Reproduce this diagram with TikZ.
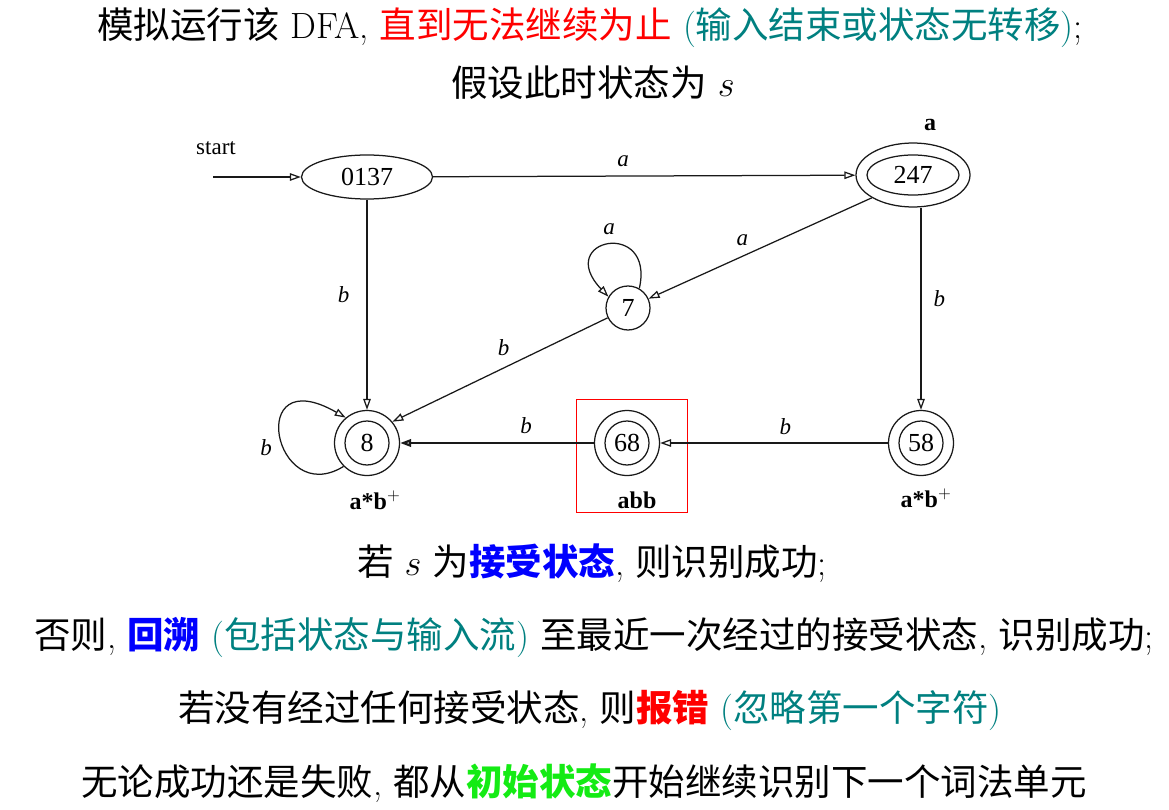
\RequirePackage{fix-cm}
\documentclass[tikz,border=0pt]{standalone}
\usepackage{fontspec}
\newfontfamily\cjk{Noto Sans CJK SC}
\newfontfamily\dgm{Liberation Serif}
\usetikzlibrary{arrows.meta,shapes.geometric}
\definecolor{tealc}{RGB}{0,128,128}
\definecolor{grnc}{RGB}{20,235,20}
\definecolor{bluec}{RGB}{0,0,255}
\newcommand\zhc[1]{{\cjk #1}}
\newcommand\zhb[1]{{\cjk\bfseries #1}}
\tikzset{
  big/.style={font=\fontsize{36.5}{40}\selectfont, inner sep=0pt},
  edge/.style={draw=black!90, line width=1.25pt, -{Triangle[open,length=11pt,width=7.5pt]}},
  st/.style={circle, draw=black!90, line width=1.25pt, minimum size=44pt, inner sep=0pt, font=\dgm\fontsize{26}{28}\selectfont},
  ring/.style={circle, draw=black!90, line width=1.25pt, minimum size=65pt, inner sep=0pt},
  lab/.style={font=\dgm\fontsize{23}{25}\selectfont\itshape, inner sep=0pt},
  tag/.style={font=\dgm\fontsize{24}{26}\selectfont\bfseries, inner sep=0pt},
}
\begin{document}
\begin{tikzpicture}[x=1pt,y=-1pt]
\useasboundingbox (0,0) rectangle (1169,810);
% titles
\node[big] (t1) at (590,28) {\zhc{模拟运行该} DFA, \textcolor{red}{\zhc{直到无法继续为止}} \textcolor{tealc}{(\zhc{输入结束或状态无转移})};};
\node[big] (t2) at (593,83) {\zhc{假设此时状态为} $s$};
% states
\node[ellipse, draw=black!90, line width=1.25pt, minimum width=131pt, minimum height=44pt, inner sep=0pt, font=\dgm\fontsize{26}{28}\selectfont] (n0) at (367,177) {0137};
\node[ellipse, draw=black!90, line width=1.25pt, minimum width=92pt, minimum height=40pt, inner sep=0pt, font=\dgm\fontsize{26}{28}\selectfont] (n247) at (913,175) {247};
\node[ellipse, draw=black!90, line width=1.25pt, minimum width=114pt, minimum height=64pt, inner sep=0pt] (o247) at (913,175) {};
\node[st] (n7) at (628,308) {7};
\node[st] (n8) at (367,443) {8};
\node[ring] (o8) at (367,443) {};
\node[st] (n68) at (627,443) {68};
\node[ring] (o68) at (627,443) {};
\node[st] (n58) at (921,443) {58};
\node[ring] (o58) at (921,443) {};
% tags
\node[font=\dgm\fontsize{23}{25}\selectfont, inner sep=0pt] (start) at (216,148) {start};
\coordinate (s0) at (213,177);
\node[tag] (ta) at (930,125) {a};
\node[tag] (t8) at (375,500) {a*b$^{+}$};
\node[tag] (t68) at (637,500) {abb};
\node[tag] (t58) at (926,498) {a*b$^{+}$};
% highlight
\node[draw=red, line width=1.3pt, minimum width=111pt, minimum height=113pt, inner sep=0pt] (hl) at (632,456) {};
% edges
\draw[edge] (s0) -- (n0);
\draw[edge] (n0) -- node[lab, pos=.45, above=9pt] {a} (o247);
\draw[edge] (n0) -- node[lab, pos=.45, left=17pt] {b} (o8);
\draw[edge] (o247.209) -- node[lab, pos=.56, anchor=south east, yshift=8pt, xshift=2pt] {a} (n7);
\draw[edge] (n7.60) .. controls +(16,-70) and +(-55,-58) .. node[lab, pos=.5, above=9pt] {a} (n7.150);
\draw[edge] (n7) -- node[lab, pos=.5, anchor=south east, yshift=13pt, xshift=10pt] {b} (o8.40);
\draw[edge] (o247.south -| o58.north) -- node[lab, pos=.45, right=12pt] {b} (o58);
\draw[edge] (o58) -- node[lab, pos=.45, above=8pt] {b} (o68);
\draw[edge, line width=2.2pt] (o68) -- node[lab, pos=.35, above=8pt] {b} (o8);
\draw[edge] (o8.225) .. controls +(-70,43) and +(-101,-58) .. node[lab, pos=.5, left=8pt, yshift=-11pt] {b} (o8.130);
% bottom text
\node[big] (b1) at (592,563) {\zhc{若} $s$ \zhc{为}\textcolor{bluec}{\zhb{接受状态}}, \zhc{则识别成功};};
\node[big] (b2) at (594,637) {\zhc{否则}, \textcolor{bluec}{\zhb{回溯}} \textcolor{tealc}{(\zhc{包括状态与输入流})} \zhc{至最近一次经过的接受状态}, \zhc{识别成功};};
\node[big] (b3) at (590,710) {\zhc{若没有经过任何接受状态}, \zhc{则}\textcolor{red}{\zhb{报错}} \textcolor{tealc}{(\zhc{忽略第一个字符})}};
\node[big] (b4) at (584,783) {\zhc{无论成功还是失败}, \zhc{都从}\textcolor{grnc}{\zhb{初始状态}}\zhc{开始继续识别下一个词法单元}};
\end{tikzpicture}
\end{document}
